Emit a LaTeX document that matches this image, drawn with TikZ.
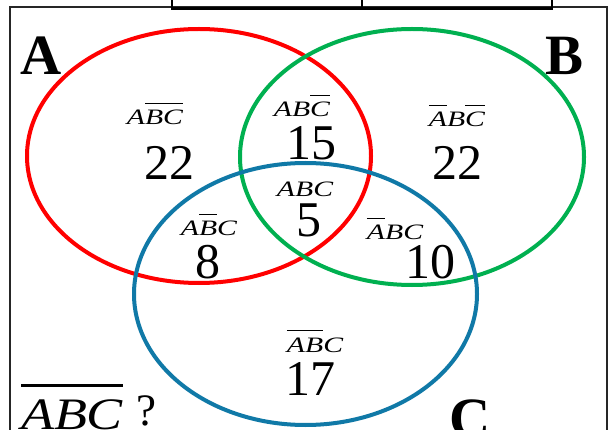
\documentclass[tikz,border=0pt]{standalone}
\usepackage{fontspec}
\setmainfont{Liberation Serif}
\newcommand{\ovl}[1]{\leavevmode\vbox{\hrule height .06em\kern .28em\hbox{#1}}}
\newcommand{\lab}[1]{\scalebox{1.35}[1]{\itshape #1}}
\newcommand{\biglab}[1]{\scalebox{1.2}[1]{\itshape #1}}
\definecolor{cA}{RGB}{255,0,0}
\definecolor{cB}{RGB}{0,176,80}
\definecolor{cC}{RGB}{16,121,167}
\tikzset{
  setline/.style={line width=4pt},
  region/.style={inner sep=0pt, anchor=base, font=\fontsize{22}{26}\selectfont},
  count/.style={inner sep=0pt, anchor=base, font=\fontsize{50}{56}\selectfont},
  setname/.style={inner sep=0pt, anchor=base, font=\fontsize{57}{60}\selectfont\bfseries},
  outside/.style={inner sep=0pt, anchor=base, font=\fontsize{45}{48}\selectfont},
  frame/.style={line width=1.2pt, black!85},
  tabline/.style={line width=2.6pt, black}
}
\begin{document}
\begin{tikzpicture}[x=1pt,y=-1pt]
\useasboundingbox (0,0) rectangle (610,430);
\clip (0,0) rectangle (610,430);
\fill[white] (0,0) rectangle (610,430);
% frame
\draw[frame] (10,7) rectangle (607,445);
% top table fragment
\draw[tabline] (172,-5) -- (172,8.5) -- (552,8.5) -- (552,-5);
\draw[tabline] (362,-5) -- (362,8.5);
% sets
\draw[setline, cA] (199,156) ellipse [x radius=172, y radius=127];
\draw[setline, cB] (412,157) ellipse [x radius=172, y radius=128];
\draw[setline, cC] (305.5,294) ellipse [x radius=171.5, y radius=131];
% set names
\node[setname] (nA) at (41,75) {A};
\node[setname] (nB) at (565,75) {B};
\node[setname] (nC) at (470,437) {C};
% region labels
\node[region] (r1) at (155,125) {\lab{A\ovl{BC}}};
\node[count]  (n1) at (169,180) {22};
\node[region] (r2) at (302,117) {\lab{AB\ovl{C}}};
\node[count]  (n2) at (311,160) {15};
\node[region] (r3) at (457,127) {\lab{\ovl{A}B\ovl{C}}};
\node[count]  (n3) at (457,180) {22};
\node[region] (r4) at (305,197) {\lab{ABC}};
\node[count]  (n4) at (309,237) {5};
\node[region] (r5) at (209,236) {\lab{A\ovl{B}C}};
\node[count]  (n5) at (208,278) {8};
\node[region] (r6) at (395,240) {\lab{\ovl{A}BC}};
\node[count]  (n6) at (430,278) {10};
\node[region] (r7) at (315,352) {\lab{\ovl{AB}C}};
\node[count]  (n7) at (310,395) {17};
% outside
\node[outside] (r8) at (72,429) {\biglab{\ovl{ABC}}};
\node[outside] (q) at (146,425) {?};
\end{tikzpicture}
\end{document}
